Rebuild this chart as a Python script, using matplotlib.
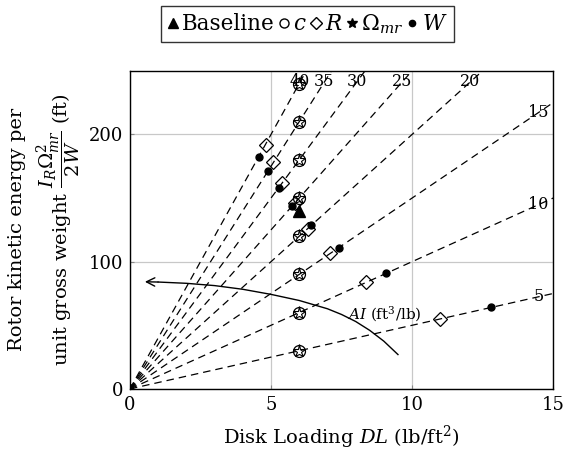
import matplotlib
matplotlib.use("Agg")
import matplotlib.pyplot as plt
from matplotlib.lines import Line2D

plt.rcParams['font.family'] = ['DejaVu Serif']
plt.rcParams['mathtext.fontset'] = 'dejavuserif'

# ---- data ----
ai_values = [5, 10, 15, 20, 25, 30, 35, 40]
ai_labels = ["5", "10", "15", "20", "25", "30", "35", "40"]

# c and Omega_mr variations (coincide)
dl_c = [6, 6, 6, 6, 6, 6, 6, 6]
ke_c = [30, 60, 90, 120, 150, 180, 210, 240]

# R variation (diamonds)
dl_R = [11.0, 8.37, 7.1, 6.32, 5.85, 5.39, 5.08, 4.82]
ke_R = [55, 84, 107, 126, 146, 162, 178, 192]

# W variation (dots)
dl_W = [12.8, 9.07, 7.41, 6.43, 5.75, 5.28, 4.88, 4.56]
ke_W = [64, 91, 111, 129, 144, 158, 171, 182]

# baseline
dl_base = [6.0]
ke_base = [140]
dl_origin = [0.05]
ke_origin = [0.0]

# AI arrow curve
curve_dl = [9.5, 9.0, 8.5, 8.0, 7.5, 7.0, 6.0, 5.0, 4.0, 3.0, 2.0, 1.0, 0.53]
curve_ke = [27, 37.5, 46, 53, 58.5, 63, 69.5, 74.3, 78.3, 81.2, 83.0, 84.0, 84.2]

xticks = [0, 5, 10, 15]
yticks = [0, 100, 200]
xlim = (0, 15)
ylim = (0, 250)

fig = plt.figure(figsize=(5.65, 4.57), dpi=100)
ax = fig.add_axes([0.230, 0.149, 0.749, 0.696])

ax.set_xlim(*xlim)
ax.set_ylim(*ylim)
ax.set_xticks(xticks)
ax.set_yticks(yticks)
ax.grid(True, color='#c8c8c8', lw=0.9)
ax.set_axisbelow(True)
ax.tick_params(direction='in', length=3, color='#888888', labelsize=13, pad=5)
for s in ax.spines.values():
    s.set_linewidth(1.0)

# constant-AI dashed lines
for ai, lab in zip(ai_values, ai_labels):
    xend = min(xlim[1], ylim[1] / ai)
    ax.plot([0, xend], [0, ai * xend], color='black', lw=0.9,
            linestyle=(0, (6, 4)), zorder=2)
    xl = 0.965 * xend
    ax.text(xl, ai * xl, lab, fontsize=11.5, ha='center', va='center', zorder=3)

# markers
ax.plot(dl_c, ke_c, linestyle='none', marker='o', ms=8.6, mfc='none',
        mec='black', mew=0.9, zorder=4)
ax.plot(dl_c, ke_c, linestyle='none', marker='*', ms=9.5, mfc='none',
        mec='black', mew=0.8, zorder=4)
ax.plot(dl_R, ke_R, linestyle='none', marker='D', ms=7.0, mfc='none',
        mec='black', mew=0.9, zorder=4)
ax.plot(dl_W, ke_W, linestyle='none', marker='o', ms=5, mfc='black',
        mec='black', zorder=4)
ax.plot(dl_base, ke_base, linestyle='none', marker='^', ms=8, mfc='black',
        mec='black', zorder=5)
ax.plot(dl_origin, ke_origin, linestyle='none', marker='^', ms=7, mfc='black',
        mec='black', zorder=5)

# AI arrow
ax.plot(curve_dl[:-1], curve_ke[:-1], color='black', lw=1.0, zorder=3)
ax.annotate('', xy=(curve_dl[-1], curve_ke[-1]), xytext=(curve_dl[-2], curve_ke[-2]),
            arrowprops=dict(arrowstyle='->,head_length=0.6,head_width=0.3',
                            color='black', lw=1.0, shrinkA=0, shrinkB=0), zorder=3)
ax.text(7.7, 59, r"$AI$ (ft$^3$/lb)", fontsize=11, ha='left', va='center')

ax.set_xlabel(r"Disk Loading $DL$ (lb/ft$^2$)", fontsize=14, labelpad=7)
ax.set_ylabel("Rotor kinetic energy per\n"
              r"unit gross weight $\dfrac{I_R\Omega_{mr}^2}{2W}$ (ft)",
              fontsize=14, multialignment='center', labelpad=4,
              linespacing=1.25)

handles = [
    Line2D([], [], linestyle='none', marker='^', ms=7, mfc='black', mec='black'),
    Line2D([], [], linestyle='none', marker='o', ms=6.5, mfc='none', mec='black'),
    Line2D([], [], linestyle='none', marker='D', ms=6, mfc='none', mec='black'),
    Line2D([], [], linestyle='none', marker='*', ms=7, mfc='black', mec='black'),
    Line2D([], [], linestyle='none', marker='o', ms=4.5, mfc='black', mec='black'),
]
labels = ["Baseline", r"$c$", r"$R$", r"$\Omega_{mr}$", r"$W$"]
leg = fig.legend(handles, labels, loc='center', bbox_to_anchor=(0.544, 0.947),
                 ncol=5, fontsize=15.5, frameon=True, fancybox=False,
                 edgecolor='black', handlelength=0.5, handletextpad=0.2,
                 columnspacing=0.15, borderpad=0.3, borderaxespad=0)
leg.get_frame().set_linewidth(1.0)

fig.savefig("out.png", dpi=100)
